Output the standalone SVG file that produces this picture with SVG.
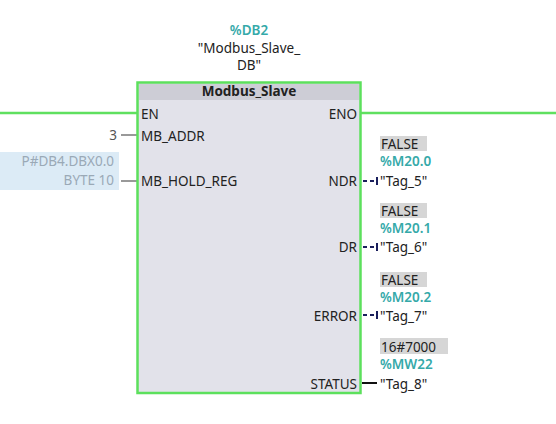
<svg xmlns="http://www.w3.org/2000/svg" width="556" height="424" viewBox="0 0 556 424">
<style>
text{font-family:"Noto Sans","Open Sans","Liberation Sans",sans-serif;font-size:13.5px;fill:#222}
.teal{fill:#35a9a9;font-weight:600}
.r{text-anchor:end}
.c{text-anchor:middle}
.val{fill:#9aa9b6}
.gbox{fill:#d6d6d6}
.rail{stroke:#5fe05f;stroke-width:2.5;fill:none}
.dash{stroke:#1a1f5c;stroke-width:2;stroke-dasharray:4,3;fill:none}
.tick{stroke:#1a1f5c;stroke-width:2}
.wire{stroke:#555;stroke-width:1.2}
</style>
<rect width="556" height="424" fill="#fff"/>
<g id="connectors">
<line class="rail" x1="0" y1="113" x2="137" y2="113"/>
<line class="rail" x1="361" y1="113" x2="556" y2="113"/>
<line class="wire" x1="121" y1="135" x2="137" y2="135"/>
<line class="wire" x1="121" y1="181" x2="137" y2="181"/>
<line class="dash" x1="363" y1="181" x2="376" y2="181"/>
<line class="tick" x1="377" y1="177" x2="377" y2="185"/>
<line class="dash" x1="363" y1="247" x2="376" y2="247"/>
<line class="tick" x1="377" y1="243" x2="377" y2="251"/>
<line class="dash" x1="363" y1="315" x2="376" y2="315"/>
<line class="tick" x1="377" y1="311" x2="377" y2="319"/>
<line x1="362" y1="383" x2="377" y2="383" stroke="#111" stroke-width="2"/>
</g>
<g id="instance-db">
<text class="teal c" x="249" y="35">%DB2</text>
<text class="c" x="249" y="53">"Modbus_Slave_</text>
<text class="c" x="249" y="70">DB"</text>
</g>
<g id="block">
<rect x="137.5" y="82.5" width="223" height="310.5" fill="#e2e2ea" stroke="#5ce05c" stroke-width="2.5"/>
<rect x="139" y="84" width="220" height="16" fill="#cdcdd6"/>
<text class="c" x="249" y="96" style="font-weight:700">Modbus_Slave</text>
<text x="141" y="119">EN</text>
<text class="r" x="357" y="119">ENO</text>
<text x="141" y="141">MB_ADDR</text>
<text x="141" y="186">MB_HOLD_REG</text>
<text class="r" x="357" y="186">NDR</text>
<text class="r" x="357" y="252">DR</text>
<text class="r" x="357" y="321">ERROR</text>
<text class="r" x="357" y="389">STATUS</text>
</g>
<g id="in-addr">
<text class="r" x="117" y="140" style="fill:#555">3</text>
</g>
<g id="in-hold">
<rect x="0" y="152" width="119" height="38" fill="#dcebf6"/>
<text class="r val" x="114" y="166">P#DB4.DBX0.0</text>
<text class="r val" x="114" y="185">BYTE 10</text>
</g>
<g id="out-ndr">
<rect class="gbox" x="380" y="136" width="47" height="15"/>
<text x="381" y="149">FALSE</text>
<text class="teal" x="380" y="166">%M20.0</text>
<text x="380" y="186">"Tag_5"</text>
</g>
<g id="out-dr">
<rect class="gbox" x="380" y="203" width="47" height="15"/>
<text x="381" y="216">FALSE</text>
<text class="teal" x="380" y="233">%M20.1</text>
<text x="380" y="252">"Tag_6"</text>
</g>
<g id="out-error">
<rect class="gbox" x="380" y="272" width="47" height="15"/>
<text x="381" y="285">FALSE</text>
<text class="teal" x="380" y="302">%M20.2</text>
<text x="380" y="321">"Tag_7"</text>
</g>
<g id="out-status">
<rect class="gbox" x="380" y="338" width="68" height="16"/>
<text x="381" y="352">16#7000</text>
<text class="teal" x="380" y="369">%MW22</text>
<text x="380" y="389">"Tag_8"</text>
</g>
</svg>
